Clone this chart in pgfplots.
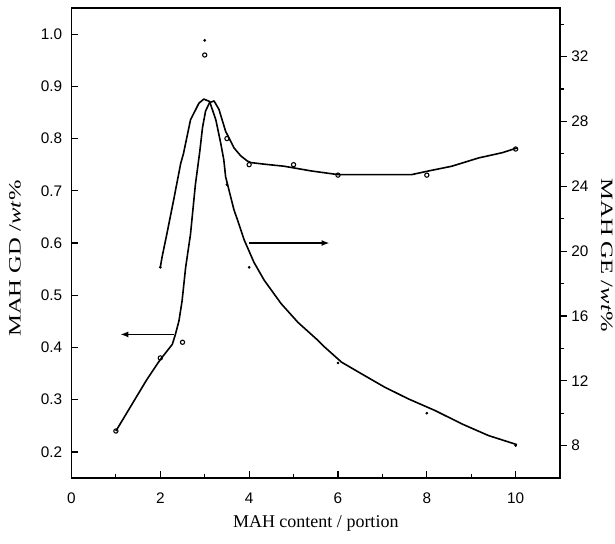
\documentclass[border=0pt]{standalone}
\usepackage{fontspec}
\setmainfont{Liberation Sans}
\newfontfamily\labelfont{Liberation Serif}
\usepackage{graphicx}
\usepackage{pgfplots}
\pgfplotsset{compat=1.18}
\usetikzlibrary{arrows.meta}

% shared frame settings for the two overlaid axes
\pgfplotsset{
  gdge/.style={
    scale only axis, width=366.4pt, height=352.5pt,
    xmin=0, xmax=11,
    axis line style={line width=1.4pt},
    tick style={line width=0.9pt, black},
    major tick length=5pt, minor tick length=2.8pt,
    tick label style={font=\fontsize{11.5}{13}\selectfont},
    /pgf/number format/assume math mode=true,
    label style={font=\labelfont\fontsize{13}{15}\selectfont},
  }
}

\begin{document}
\begin{tikzpicture}
\useasboundingbox (-53.6pt,-48.75pt) rectangle (407.6pt,358.5pt);

% --- left axis: MAH GD ---
\begin{axis}[gdge,
    ymin=0.15, ymax=1.05,
    xtick={0,2,...,10}, minor xtick={1,3,...,9},
    ytick={0.2,0.3,...,1.0},
    xtick pos=bottom, ytick pos=left,
    tick align=inside,
    yticklabel style={/pgf/number format/.cd, fixed, fixed zerofill, precision=1, /tikz/.cd, xshift=-3.5pt},
    xticklabel style={yshift=-7.5pt},
    xlabel={\fontsize{13.5}{15}\selectfont MAH content / portion},
    xlabel style={at={(axis description cs:0.5,-0.0957)}, anchor=center},
    ylabel={\scalebox{1.42}[1]{MAH GD /\textit{wt}\%}},
    ylabel style={at={(axis description cs:-0.1157,0.467)}, anchor=center},
]
% fitted curve
\addplot[black, line width=1.2pt, line join=round] coordinates {
  (1.00,0.240) (1.70,0.339) (2.00,0.377) (2.15,0.393)
  (2.27,0.406) (2.34,0.425) (2.42,0.451) (2.49,0.489) (2.57,0.553)
  (2.68,0.617) (2.79,0.712) (2.89,0.776) (2.95,0.821) (3.02,0.853)
  (3.11,0.869) (3.21,0.872) (3.32,0.856) (3.47,0.814) (3.66,0.782)
  (3.81,0.767) (3.96,0.757) (4.04,0.754) (4.34,0.751) (4.79,0.747)
  (5.40,0.738) (6.00,0.731) (7.66,0.731) (8.04,0.738) (8.56,0.747)
  (9.17,0.763) (9.70,0.773) (10.03,0.782)
};
% measured points
\addplot[only marks, mark=o, mark size=1.6pt, mark options={line width=0.8pt}] coordinates {
  (1,0.24) (2,0.38) (2.5,0.41) (3,0.96) (3.5,0.80)
  (4,0.75) (5,0.75) (6,0.73) (8,0.73) (10,0.78)
};
\draw[line width=1.1pt, -{Latex[length=6pt,width=4.5pt]}] (axis cs:2.30,0.425) -- (axis cs:1.10,0.425);
\draw[line width=1.1pt, -{Latex[length=6pt,width=4.5pt]}] (axis cs:4.00,0.600) -- (axis cs:5.81,0.600);
\end{axis}

% --- right axis: MAH GE ---
\begin{axis}[gdge,
    ymin=6, ymax=35,
    hide x axis,
    axis y line*=right,
    ytick={8,12,...,32}, minor ytick={10,14,...,34},
    tick align=outside,
    ylabel={\scalebox{1.42}[1]{MAH GE /\textit{wt}\%}},
    ylabel style={at={(axis description cs:1.0955,0.474)}, anchor=center, rotate=180},
]
\addplot[black, line width=1.2pt, line join=round] coordinates {
  (2.00,19.00) (2.04,19.64) (2.15,21.09) (2.30,23.15) (2.46,25.42)
  (2.52,26.00) (2.68,28.10) (2.87,29.13) (2.98,29.38) (3.11,29.23)
  (3.25,28.10) (3.36,26.66) (3.43,25.63) (3.47,24.59) (3.66,22.53)
  (3.74,21.91) (3.89,20.68) (4.11,19.30) (4.34,18.20) (4.72,16.76)
  (5.10,15.60) (5.55,14.49) (5.70,14.08) (6.08,13.15) (6.53,12.43)
  (7.05,11.61) (7.58,10.89) (8.19,10.16) (8.79,9.34) (9.39,8.62)
  (10.03,8.06)
};
\addplot[only marks, mark=*, mark size=0.8pt] coordinates {
  (2,19.0) (3,33.0) (3.5,24.1) (4,19.0) (6,13.1) (8,10.0) (10,8.0)
};
\end{axis}
\end{tikzpicture}
\end{document}
